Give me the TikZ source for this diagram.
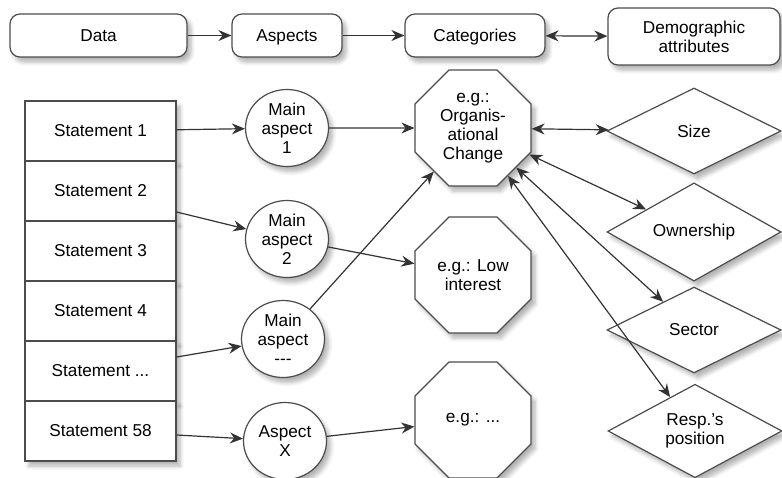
\documentclass[tikz,border=0pt]{standalone}
\usepackage{fontspec}
\setmainfont{Liberation Sans}
\usetikzlibrary{shadows.blur}
\usetikzlibrary{shapes.geometric}
\usetikzlibrary{arrows.meta}

\begin{document}
\begin{tikzpicture}[x=0.5pt,y=-0.5pt,
    font=\fontsize{8.6}{9.4}\selectfont,
    boxbase/.style={
        draw=black!70,
        line width=0.6pt,
        fill=white,
        align=center,
        inner sep=0pt,
        blur shadow={shadow blur steps=6,shadow xshift=2pt,
                     shadow yshift=-2.5pt,shadow opacity=30}},
    stepbox/.style={boxbase,rounded corners=5pt,minimum height=21.5pt,
                    text depth=0pt},
    stmtbox/.style={boxbase,minimum width=75.5pt,minimum height=30pt},
    aspectnode/.style={boxbase,ellipse,minimum width=41.5pt,minimum height=38.5pt},
    catnode/.style={boxbase,regular polygon,regular polygon sides=8,minimum size=62.8pt},
    attrnode/.style={boxbase,diamond,minimum width=87pt,minimum height=43pt}]

\useasboundingbox (0,0) rectangle (782,477);

% top row
\node[stepbox,minimum width=88.5pt] (data) at (98.5,35.5) {Data};
\node[stepbox,minimum width=55pt] (aspects) at (287,35.5) {Aspects};
\node[stepbox,minimum width=70pt] (categories) at (475,35.5) {Categories};
\node[stepbox,minimum width=86pt,minimum height=28.5pt] (demographic) at (694,36.5) {Demographic\\attributes};

% statements
\node[stmtbox] (stmt1) at (100.5,131) {Statement 1};
\node[stmtbox] (stmt2) at (100.5,191) {Statement 2};
\node[stmtbox] (stmt3) at (100.5,251) {Statement 3};
\node[stmtbox] (stmt4) at (100.5,311) {Statement 4};
\node[stmtbox] (stmtdots) at (100.5,371) {Statement ...};
\node[stmtbox] (stmt58) at (100.5,431) {Statement 58};

% aspects
\node[aspectnode] (mainone) at (287,128) {Main\\aspect\\1};
\node[aspectnode] (maintwo) at (287,239) {Main\\aspect\\2};
\node[aspectnode] (maindash) at (283,339) {Main\\aspect\\-{}-{}-};
\node[aspectnode] (aspectx) at (285,441) {Aspect\\X};

% categories
\node[catnode] (orgchange) at (473,128) {e.g.:\\Organis-\\ational\\Change};
\node[catnode] (lowinterest) at (473,275) {e.g.: Low\\interest};
\node[catnode] (othercat) at (473,420) {e.g.: ...};

% demographic attributes
\node[attrnode] (size) at (694,131) {Size};
\node[attrnode] (ownership) at (694,232) {Ownership};
\node[attrnode] (sector) at (694,330) {Sector};
\node[attrnode] (position) at (695,431) {Resp.'s\\position};

\begin{scope}[>={Stealth[length=6.5pt,width=5.5pt]},
              every edge/.style={draw=black!80,line width=0.6pt}]

    \path [->] (data) edge (aspects);
    \path [->] (aspects) edge (categories);
    \path [<->] (categories) edge (demographic);

    \path [->] (stmt1) edge (mainone);
    \path [->] ([yshift=-10.5pt]stmt2.east) edge (maintwo);
    \path [->] ([yshift=7pt]stmtdots.east) edge (maindash);
    \path [->] ([yshift=-2pt]stmt58.east) edge (aspectx);

    \path [->] (mainone) edge (orgchange);
    \path [->] (maintwo) edge (lowinterest);
    \path [->] (maindash) edge (orgchange);
    \path [->] (aspectx) edge (othercat);

    \path [<->] (orgchange) edge (size);
    \path [<->] (orgchange) edge (ownership);
    \path [<->] (orgchange) edge (sector);
    \path [<->] (orgchange) edge (position);

\end{scope}
\end{tikzpicture}
\end{document}
